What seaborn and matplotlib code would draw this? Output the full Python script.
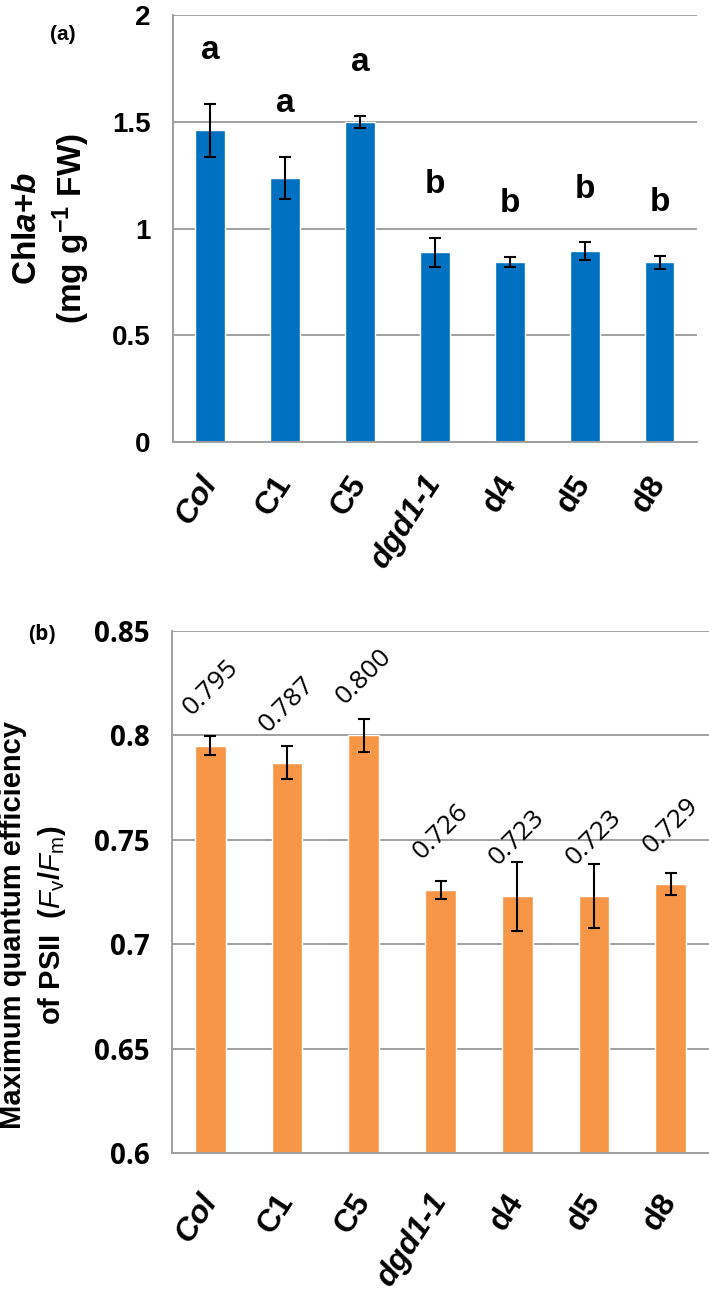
import matplotlib
matplotlib.use('Agg')
import matplotlib.pyplot as plt
import matplotlib.transforms as mtransforms
import seaborn as sns
import pandas as pd


lines = ['Col', 'C1', 'C5', 'dgd1-1', 'd4', 'd5', 'd8']
italic_lines = ['Col', 'dgd1-1']

chl = [1.46, 1.237, 1.50, 0.89, 0.843, 0.895, 0.842]
chl_err = [0.125, 0.10, 0.027, 0.068, 0.025, 0.04, 0.03]
chl_letters = ['a', 'a', 'a', 'b', 'b', 'b', 'b']

fvfm = [0.795, 0.787, 0.800, 0.726, 0.723, 0.723, 0.729]
fvfm_err = [0.0045, 0.008, 0.0077, 0.0043, 0.0165, 0.0152, 0.0053]
fvfm_labels = ['0.795', '0.787', '0.800', '0.726', '0.723', '0.723', '0.729']

blue = '#0070C0'
orange = '#F79646'
grid_c = '#A0A0A0'

sns.set_style('white')
plt.rcParams['font.family'] = ['Liberation Sans', 'DejaVu Sans']
for k in ['text.color', 'axes.labelcolor', 'xtick.color', 'ytick.color']:
    plt.rcParams[k] = 'black'
plt.rcParams['mathtext.fontset'] = 'custom'
plt.rcParams['mathtext.rm'] = 'Liberation Sans:bold'
plt.rcParams['mathtext.bf'] = 'Liberation Sans:bold'
plt.rcParams['mathtext.it'] = 'Liberation Sans:italic:bold'
plt.rcParams['mathtext.sf'] = 'Liberation Sans'
plt.rcParams['mathtext.cal'] = 'Liberation Sans:italic'

df_a = pd.DataFrame({'line': lines, 'chl': chl})
df_b = pd.DataFrame({'line': lines, 'fvfm': fvfm})

fig = plt.figure(figsize=(7.09, 12.99), dpi=100)
ax1 = fig.add_axes([0.244, 0.6597, 0.739, 0.3287])
ax2 = fig.add_axes([0.2426, 0.1124, 0.7574, 0.4018])


def style_axis(ax, ticks, tick_labels, font):
    ax.set_yticks(ticks)
    ax.set_yticklabels(tick_labels, fontsize=20, fontweight='bold',
                       family=font)
    ax.yaxis.grid(True, color=grid_c, linewidth=1.4)
    ax.set_axisbelow(True)
    for s in ['top', 'right']:
        ax.spines[s].set_visible(False)
    for s in ['left', 'bottom']:
        ax.spines[s].set_color(grid_c)
        ax.spines[s].set_linewidth(1.4)
    ax.tick_params(axis='y', length=8, width=1.4, color=grid_c, pad=8,
                   labelcolor='black')
    ax.tick_params(axis='x', length=0)
    ax.set_xlabel('')
    ax.set_xlim(-0.5, len(lines) - 0.5)


def xlabels(ax, pad, dx):
    ax.set_xticks(range(len(lines)))
    ax.set_xticklabels(lines, rotation=57, ha='right', va='center',
                       rotation_mode='anchor', fontsize=23, fontweight='bold')
    shift = mtransforms.ScaledTranslation(dx / 100, 0, fig.dpi_scale_trans)
    for t in ax.get_xticklabels():
        if t.get_text() in italic_lines:
            t.set_style('italic')
        t.set_transform(t.get_transform() + shift)
    ax.tick_params(axis='x', pad=pad)


# (a) chlorophyll
sns.barplot(data=df_a, x='line', y='chl', color=blue, width=0.4,
            saturation=1, ax=ax1)
ax1.errorbar(range(len(lines)), chl, yerr=chl_err, fmt='none', ecolor='black',
             elinewidth=1.5, capsize=4.5, capthick=1.5)
for i, (v, e, l) in enumerate(zip(chl, chl_err, chl_letters)):
    ax1.text(i, v + e + 0.25, l, ha='center', va='center', fontsize=24,
             fontweight='bold')
ax1.set_ylim(0, 2)
style_axis(ax1, [0, 0.5, 1, 1.5, 2], ['0', '0.5', '1', '1.5', '2'],
           ['Liberation Sans', 'DejaVu Sans'])
xlabels(ax1, 26, -4)
ax1.set_ylabel('Chl$\\it{a}$+$\\it{b}$\n(mg g$^{-1}$ FW)', fontsize=24,
               fontweight='bold', linespacing=1.25)
ax1.yaxis.set_label_coords(-0.154, 0.5)
fig.text(63 / 709, 1 - 35 / 1299, '(a)', fontsize=15, fontweight='bold',
         ha='center', va='center')

# (b) Fv/Fm
sns.barplot(data=df_b, x='line', y='fvfm', color=orange, width=0.4,
            saturation=1, ax=ax2)
ax2.errorbar(range(len(lines)), fvfm, yerr=fvfm_err, fmt='none',
             ecolor='black', elinewidth=1.5, capsize=4.5, capthick=1.5)
for i, (v, l) in enumerate(zip(fvfm, fvfm_labels)):
    ax2.text(i, v + 0.028, l, ha='center', va='center', rotation=45,
             fontsize=19, family=['Open Sans', 'DejaVu Sans'])
ax2.set_ylim(0.6, 0.85)
style_axis(ax2, [0.6, 0.65, 0.7, 0.75, 0.8, 0.85],
           ['0.6', '0.65', '0.7', '0.75', '0.8', '0.85'],
           ['Open Sans', 'DejaVu Sans'])
xlabels(ax2, 31, -9)
ax2.set_ylabel('Maximum quantum efficiency\nof PSII  ($\\mathcal{F}_\\mathsf{v}$/$\\mathcal{F}_\\mathsf{m}$)',
               fontsize=21, fontweight='bold', linespacing=1.35)
ax2.yaxis.set_label_coords(-0.194, 0.437)
fig.text(42 / 709, 1 - 634 / 1299, '(b)', fontsize=15, fontweight='bold',
         family=['Open Sans', 'DejaVu Sans'], ha='center', va='center')

fig.savefig('out.png', dpi=100)
plt.close(fig)
